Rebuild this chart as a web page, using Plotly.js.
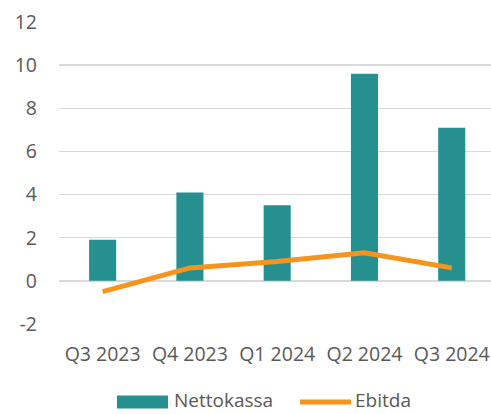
<!DOCTYPE html>
<html>
<head>
<meta charset="utf-8">
<script src="https://cdn.plot.ly/plotly-3.0.1.min.js"></script>
<style>
  html, body { margin: 0; padding: 0; background: #fff; }
  #chart { width: 491px; height: 414px; }
</style>
</head>
<body>
<div id="chart"></div>
<script>
// --- DATA ---
const quarters = ['Q3 2023', 'Q4 2023', 'Q1 2024', 'Q2 2024', 'Q3 2024'];
const nettokassa = [1.9, 4.1, 3.5, 9.6, 7.1];
const ebitda = [-0.5, 0.6, 0.9, 1.3, 0.6];
const yTicks = [-2, 0, 2, 4, 6, 8, 10, 12];
const yTickText = ['-2', '0', '2', '4', '6', '8', '10', '12'];
const seriesNames = ['Nettokassa', 'Ebitda'];

const TEAL = '#268f8f';
const ORANGE = '#f7941d';
const TEXT = '#595959';
const GRID = '#d9d9d9';
const FONT = '"Open Sans", sans-serif';

// plot box in pixels, used to place the hand-made legend
const W = 491, H = 414;
const M = { l: 59, r: 0, t: 22, b: 90 };
const px = x => (x - M.l) / (W - M.l - M.r);
const py = y => (H - M.b - y) / (H - M.t - M.b);

const traces = [
    {
        type: 'bar',
        x: quarters,
        y: nettokassa,
        name: seriesNames[0],
        marker: { color: TEAL, line: { width: 0 } },
        hoverinfo: 'skip'
    },
    {
        type: 'scatter',
        mode: 'lines',
        x: quarters,
        y: ebitda,
        name: seriesNames[1],
        line: { color: ORANGE, width: 5 },
        hoverinfo: 'skip'
    }
];

// legend: wide swatches like the original
const legendY = 402;
const shapes = [
    {
        type: 'rect', xref: 'paper', yref: 'paper',
        x0: px(117), x1: px(168), y0: py(legendY + 6.5), y1: py(legendY - 6.5),
        fillcolor: TEAL, line: { width: 0 }
    },
    {
        type: 'line', xref: 'paper', yref: 'paper',
        x0: px(300), x1: px(351), y0: py(legendY), y1: py(legendY),
        line: { color: ORANGE, width: 5 }
    }
];
const annotations = [
    { text: seriesNames[0], x: px(173), xanchor: 'left' },
    { text: seriesNames[1], x: px(354), xanchor: 'left' }
].map(a => ({
    ...a, xref: 'paper', yref: 'paper', y: py(legendY - 2), yanchor: 'middle',
    borderpad: 0, showarrow: false, font: { family: FONT, size: 19, color: TEXT }
}));

const layout = {
    width: W,
    height: H,
    margin: { ...M, pad: 0 },
    paper_bgcolor: '#fff',
    plot_bgcolor: '#fff',
    font: { family: FONT, size: 19.5, color: TEXT },
    bargap: 0.69,
    showlegend: false,
    xaxis: {
        type: 'category',
        range: [-0.5, 4.45],
        showgrid: false,
        zeroline: false,
        showline: false,
        ticks: '',
        ticklabelstandoff: 16,
        tickfont: { size: 19.5, color: TEXT }
    },
    yaxis: {
        range: [-2, 12],
        tickvals: yTicks,
        ticktext: yTickText,
        showgrid: true,
        gridcolor: GRID,
        gridwidth: 1.5,
        zeroline: true,
        zerolinecolor: GRID,
        zerolinewidth: 1.5,
        showline: false,
        ticks: '',
        ticklabelstandoff: 21,
        tickfont: { size: 19.5, color: TEXT }
    },
    shapes: shapes,
    annotations: annotations
};

Plotly.newPlot('chart', traces, layout, { displayModeBar: false, staticPlot: true });
</script>
</body>
</html>
